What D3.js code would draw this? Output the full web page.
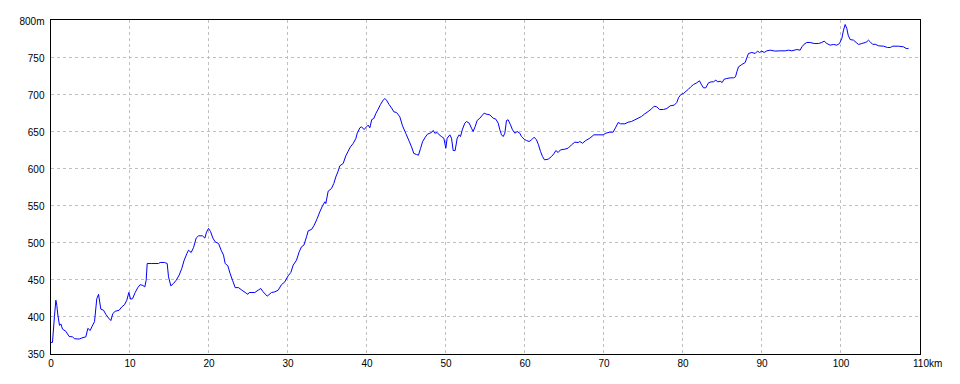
<!DOCTYPE html>
<html>
<head>
<meta charset="utf-8">
<script src="https://cdn.jsdelivr.net/npm/d3@7"></script>
<style>
  html, body { margin: 0; padding: 0; background: #fff; }
  svg { display: block; }
  text { font-family: "Liberation Sans", Arial, sans-serif; font-size: 10px; fill: #000; }
</style>
</head>
<body>
<svg id="chart" width="960" height="384"></svg>
<script>
// Distance (km) and elevation (m)
const distanceKm = [
  0, 0.25, 0.35, 0.5, 0.68, 0.80, 0.93, 1.14, 1.31, 1.52, 1.94, 2.36, 2.78, 3.04, 3.63, 3.97,
  4.47, 4.73, 5.02, 5.23, 5.57, 5.86, 6.08, 6.37, 6.71, 7.00, 7.34, 7.64, 7.89, 8.19, 8.69,
  9.03, 9.37, 9.66, 9.92, 10.13, 10.38, 10.72, 11.05, 11.35, 11.69, 11.94, 12.11, 12.24,
  12.83, 13.67, 13.88, 14.43, 14.77, 14.94, 15.23, 15.57, 15.91, 16.29, 16.62, 16.92, 17.26,
  17.47, 17.81, 18.10, 18.44, 18.73, 19.24, 19.54, 19.75, 20.00, 20.25, 20.55, 20.84, 21.27,
  21.60, 21.90, 22.11, 22.45, 22.74, 23.04, 23.38, 23.80, 24.22, 24.64, 24.98, 25.15, 25.86,
  26.29, 26.62, 26.92, 27.43, 27.97, 28.40, 28.82, 29.24, 29.66, 30.08, 30.42, 30.72, 31.14,
  31.48, 31.77, 32.07, 32.41, 32.62, 33.04, 33.38, 33.76, 34.09, 34.43, 34.73, 34.85, 35.15,
  35.57, 35.86, 36.12, 36.41, 36.62, 37.05, 37.38, 37.68, 37.97, 38.31, 38.65, 38.82, 39.16,
  39.37, 39.70, 40.00, 40.21, 40.42, 40.67, 40.93, 41.18, 41.48, 41.77, 42.11, 42.32, 42.53,
  42.86, 43.16, 43.46, 43.80, 44.22, 44.56, 44.98, 45.40, 45.70, 45.99, 46.33, 46.58, 46.84,
  47.09, 47.38, 47.72, 48.02, 48.23, 48.44, 48.65, 48.95, 49.20, 49.49, 49.79, 50.04, 50.21,
  50.55, 50.76, 50.97, 51.22, 51.48, 51.73, 51.90, 52.15, 52.45, 52.66, 53.00, 53.29, 53.50,
  53.76, 54.01, 54.35, 54.60, 54.89, 55.19, 55.61, 56.03, 56.37, 56.67, 56.88, 57.09, 57.30,
  57.51, 57.72, 57.93, 58.23, 58.48, 58.78, 59.07, 59.41, 59.62, 59.96, 60.25, 60.59, 60.89,
  61.22, 61.52, 61.77, 62.03, 62.28, 62.53, 63.00, 63.42, 63.71, 63.97, 64.26, 64.56, 65.11,
  65.53, 65.95, 66.37, 66.79, 67.00, 67.34, 67.76, 68.27, 68.78, 69.32, 69.96, 70.30, 70.80,
  71.22, 71.56, 71.86, 72.15, 72.70, 73.12, 73.54, 73.97, 74.39, 74.81, 75.23, 75.65, 76.08,
  76.41, 76.75, 77.09, 77.59, 78.02, 78.44, 78.95, 79.28, 79.49, 79.79, 80.13, 80.46, 80.76,
  81.05, 81.39, 81.81, 82.15, 82.36, 82.66, 82.95, 83.29, 83.63, 83.92, 84.22, 84.47, 84.77,
  85.02, 85.27, 85.61, 86.03, 86.46, 86.71, 86.88, 87.09, 87.51, 87.93, 88.14, 88.35, 88.78,
  89.20, 89.49, 89.75, 90.04, 90.34, 90.68, 91.10, 91.73, 92.36, 93.00, 93.42, 93.84, 94.47,
  94.89, 95.11, 95.40, 95.74, 96.16, 96.67, 97.22, 97.64, 97.93, 98.27, 98.69, 99.11, 99.54,
  99.87, 100.17, 100.38, 100.59, 100.80, 100.97, 101.22, 101.65, 101.98, 102.28, 102.70,
  103.12, 103.33, 103.54, 103.76, 104.09, 104.39, 104.81, 105.44, 105.95, 106.29, 106.62,
  107.34, 107.97, 108.31, 108.61
];
const elevationM = [
  365, 365, 379, 400, 422, 415, 402, 388, 390, 383, 380, 373, 372.5, 370, 369.5, 371,
  372.5, 384, 381, 386, 393, 424, 430, 410, 408.5, 403, 398, 394.5, 404, 407, 408.5,
  413, 416, 422, 432.5, 423.5, 424, 432.5, 439, 443, 442, 440, 449, 471.6,
  471.6, 471.6, 473, 473, 471.6, 453.6, 441.4, 444.6, 449, 456, 465, 476, 485,
  489.6, 486.5, 493, 506, 509, 509, 506, 514, 519, 515, 506, 501, 498.6,
  489.6, 483, 471.6, 468.5, 458, 449, 439, 439, 435.6, 432.5, 430, 432.4, 432.4,
  435.6, 437.8, 433.3, 427.5, 432.4, 433.3, 435.6, 443, 446.8, 455, 459.5, 469.4, 476.1,
  487.4, 494.1, 496.4, 507.7, 515.8, 517.6, 523.4, 532.4, 541.4, 549.5, 555, 552.7, 569.4,
  573, 579.7, 588.7, 596.4, 603.6, 606.8, 617.1, 623.4, 629.3, 633.8, 640.5, 647.3, 655,
  656.3, 652.7, 656.3, 658.6, 655, 666.2, 667.6, 674.3, 680.2, 686.5, 692.3, 694.6, 692.3,
  686.5, 682, 676.6, 675.7, 669.8, 657.7, 647.3, 636.9, 629.3, 620.3, 618.9, 618, 627,
  636, 641.4, 646.4, 647.7, 648.6, 651.4, 647.7, 648.6, 645.5, 643.2, 641, 627.5, 641,
  645.5, 641, 624.3, 624.3, 641, 645.5, 643.2, 653.2, 661.3, 663.5, 661.3, 654.5, 650,
  656.8, 664.9, 668, 671.2, 674.8, 673.4, 672.5, 668, 666.7, 661.3, 652.3, 645.5, 643.2,
  647.7, 664.9, 665.8, 659, 652.3, 647.7, 650, 647.7, 643.2, 639.6, 637.8, 636.5, 638.7,
  642.3, 638.7, 632, 623, 616.2, 611.7, 612.6, 616.2, 619.8, 624.3, 621.6, 625.2, 626.1,
  627.5, 632, 635.6, 635.1, 636.5, 634.2, 637.8, 641, 645.5, 645.5, 645.5, 647.7, 649.1,
  649.1, 655.9, 662.2, 660.4, 660.4, 662.6, 663.5, 665.8, 668, 670.3, 673.9, 677, 680.6,
  684.2, 683.3, 679.7, 679.7, 681.1, 684.7, 685.6, 689.2, 695.5, 700, 701.4, 704.5, 707.2,
  710.4, 713.5, 715.8, 718.5, 714, 709, 709, 715.8, 717.1, 717.1, 719.4, 717.1, 718,
  716.2, 720.7, 721.6, 722.5, 722.5, 723.9, 730.6, 737.4, 740.5, 743.2, 749.5, 755.4, 756.8,
  755.4, 758.6, 756.8, 758.6, 756.8, 759, 759.9, 758.6, 759, 759, 759.9, 759, 760.8,
  759.9, 764.4, 768, 770.3, 770.3, 768.9, 768.9, 770.3, 772.1, 768.9, 766.7, 767.6, 766.7,
  768.9, 775.7, 786.9, 794.6, 789.2, 780.2, 774.3, 773.4, 770.3, 767.6, 768.9,
  770.3, 771.2, 773.4, 771.2, 767.6, 768, 765.8, 765.3, 763.5, 763.5, 765.3,
  765.3, 764.4, 762.2, 762.2
];
const xTicks = [0, 10, 20, 30, 40, 50, 60, 70, 80, 90, 100, 110];
const yTicks = [350, 400, 450, 500, 550, 600, 650, 700, 750, 800];
const xTickLabels = ["0", "10", "20", "30", "40", "50", "60", "70", "80", "90", "100", "110km"];
const yTickLabels = ["350", "400", "450", "500", "550", "600", "650", "700", "750", "800m"];

const svg = d3.select("#chart");
const x = d3.scaleLinear().domain([0, 110]).range([50.5, 919.5]);
const y = d3.scaleLinear().domain([350, 800]).range([353.5, 20.5]);

const grid = svg.append("g").attr("shape-rendering", "crispEdges")
  .attr("stroke", "#c0c0c0").attr("stroke-dasharray", "3,3");
grid.selectAll("line.v").data(xTicks.slice(1, -1)).join("line")
  .attr("x1", d => Math.floor(x(d)) + 0.5).attr("x2", d => Math.floor(x(d)) + 0.5)
  .attr("y1", 20).attr("y2", 354);
grid.selectAll("line.h").data(yTicks.slice(1, -1)).join("line")
  .attr("y1", d => Math.floor(y(d)) + 0.5).attr("y2", d => Math.floor(y(d)) + 0.5)
  .attr("x1", 51).attr("x2", 919);

// frame
svg.append("rect").attr("x", 50.5).attr("y", 19.5).attr("width", 870).attr("height", 335)
  .attr("fill", "none").attr("stroke", "#000").attr("shape-rendering", "crispEdges");

// axes labels
const xAxis = d3.axisBottom(x).tickValues(xTicks).tickSize(0).tickPadding(0)
  .tickFormat((d, i) => xTickLabels[i]);
const gx = svg.append("g").attr("transform", "translate(0,360)").call(xAxis);
gx.select(".domain").remove();
gx.selectAll("text").attr("dy", "0.71em").attr("font-family", null).attr("font-size", null)
  .attr("text-anchor", (d, i) => i === xTicks.length - 1 ? "start" : "middle")
  .attr("dx", (d, i) => i === xTicks.length - 1 ? -7 : 0);

const yAxis = d3.axisLeft(y).tickValues(yTicks).tickSize(0).tickPadding(0)
  .tickFormat((d, i) => yTickLabels[i]);
const gy = svg.append("g").attr("transform", "translate(44.5,0)").call(yAxis);
gy.select(".domain").remove();
gy.selectAll("text").attr("font-family", null).attr("font-size", null).attr("dy", "0.36em");

// profile line
const line = d3.line().x((d, i) => x(distanceKm[i])).y(d => y(d));
svg.append("path").datum(elevationM).attr("d", line)
  .attr("fill", "none").attr("stroke", "#0000ff").attr("stroke-width", 1)
  .attr("stroke-linejoin", "miter");
</script>
</body>
</html>
